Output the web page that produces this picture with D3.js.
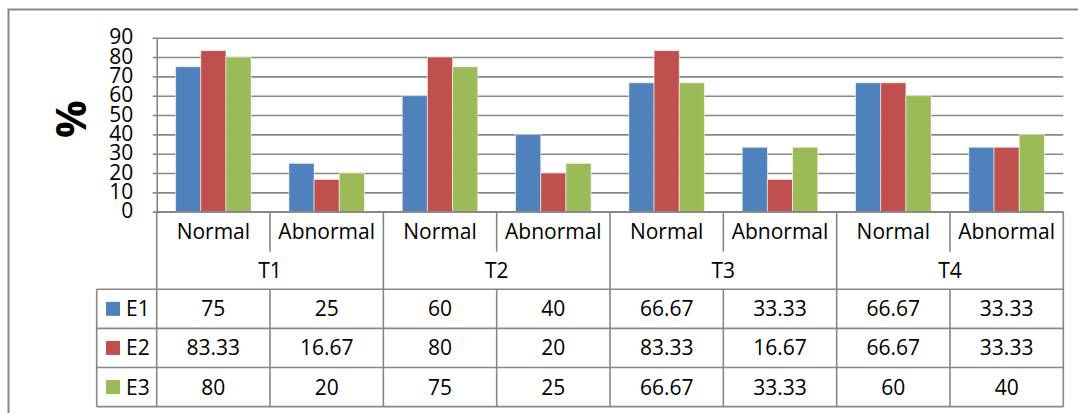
<!DOCTYPE html>
<html>
<head>
<meta charset="utf-8">
<script src="https://cdn.jsdelivr.net/npm/d3@7"></script>
<style>
  html, body { margin: 0; padding: 0; background: #fff; }
  svg { display: block; }
  text { font-family: "Open Sans", "Noto Sans", sans-serif; fill: #000; }
</style>
</head>
<body>
<svg id="chart" width="1078" height="413"></svg>
<script>
// Treatment groups and result categories along the x axis
const groups = ["T1", "T2", "T3", "T4"];
const states = ["Normal", "Abnormal"];

// Series names and their percentages, one value per group/state pair
const seriesNames = ["E1", "E2", "E3"];
const e1 = [75, 25, 60, 40, 66.67, 33.33, 66.67, 33.33];
const e2 = [83.33, 16.67, 80, 20, 83.33, 16.67, 66.67, 33.33];
const e3 = [80, 20, 75, 25, 66.67, 33.33, 60, 40];

// Y axis ticks
const yTicks = [0, 10, 20, 30, 40, 50, 60, 70, 80, 90];
const yLabel = "%";

const colors = ["#4F81BD", "#C0504D", "#9BBB59"];
const lineColor = "#878787";

const seriesValues = [e1, e2, e3];
const categories = groups.flatMap(g => states.map(s => ({ group: g, state: s })));
const catIds = categories.map((c, i) => i);

const svg = d3.select("#chart");

// layout
const plotLeft = 156.7, plotRight = 1063.3;
const plotTop = 37.7, plotBottom = 211.7;
const row1Bottom = 251.7;   // end of Normal/Abnormal dividers
const tableTop = 289.3;     // top of the data table
const rowH = 39.1;
const tableLeft = 96.7;
const tableBottom = tableTop + rowH * seriesValues.length;

// chart frame
svg.append("rect")
  .attr("x", 8.5).attr("y", 9.5)
  .attr("width", 1200).attr("height", 600)
  .attr("fill", "none")
  .attr("stroke", lineColor)
  .attr("stroke-width", 2);

const x = d3.scaleBand().domain(catIds).range([plotLeft, plotRight]).padding(0);
const xs = d3.scaleBand().domain(seriesNames).range([0, x.bandwidth()])
  .paddingInner(0).paddingOuter(0.75);
const y = d3.scaleLinear().domain([0, 90]).range([plotBottom, plotTop]);

// horizontal gridlines
const grid = svg.append("g")
  .attr("transform", `translate(${plotLeft},0)`)
  .call(d3.axisLeft(y).tickValues(yTicks).tickSize(-(plotRight - plotLeft)).tickFormat(""));
grid.select(".domain").remove();
grid.selectAll(".tick line").attr("stroke", lineColor).attr("stroke-width", 1.6);

// y axis with labels
const yAxis = svg.append("g")
  .attr("transform", `translate(${plotLeft},0)`)
  .call(d3.axisLeft(y).tickValues(yTicks).tickSizeInner(4).tickSizeOuter(0).tickPadding(19.5));
yAxis.attr("font-size", null).attr("font-family", null);
yAxis.select(".domain").attr("stroke", lineColor).attr("stroke-width", 1.6);
yAxis.selectAll(".tick line").attr("stroke", lineColor).attr("stroke-width", 1.6);
yAxis.selectAll(".tick text")
  .style("font-size", "21px")
  .attr("dy", null)
  .attr("y", 6.2)
  .attr("fill", "#000");

// axis title
svg.append("text")
  .attr("transform", `translate(${71 + 15},119) rotate(-90)`)
  .attr("text-anchor", "middle")
  .style("font-size", "42px")
  .attr("font-weight", "bold")
  .text(yLabel);

// bars
const barGroups = svg.append("g").selectAll("g")
  .data(seriesValues)
  .join("g")
  .attr("fill", (d, i) => colors[i]);

barGroups.each(function (vals, si) {
  d3.select(this).selectAll("rect")
    .data(vals)
    .join("rect")
    .attr("x", (v, ci) => x(ci) + xs(seriesNames[si]))
    .attr("width", xs.bandwidth())
    .attr("y", v => y(v))
    .attr("height", v => y(0) - y(v))
    .attr("stroke", "rgba(255,255,255,0.55)")
    .attr("stroke-width", 1);
});

// category axis line
const lines = svg.append("g")
  .attr("stroke", lineColor)
  .attr("stroke-width", 1.6)
  .attr("fill", "none");

lines.append("line")
  .attr("x1", plotLeft).attr("x2", plotRight)
  .attr("y1", plotBottom).attr("y2", plotBottom);

// dividers between categories: full height at group edges, short inside groups
const edges = d3.range(categories.length + 1);
lines.selectAll(".div")
  .data(edges)
  .join("line")
  .attr("x1", i => i < categories.length ? x(i) : plotRight)
  .attr("x2", i => i < categories.length ? x(i) : plotRight)
  .attr("y1", plotBottom)
  .attr("y2", i => (i % states.length === 0) ? tableBottom : row1Bottom);

// data table grid
lines.selectAll(".hrow")
  .data(d3.range(seriesValues.length + 1))
  .join("line")
  .attr("x1", tableLeft).attr("x2", plotRight)
  .attr("y1", r => tableTop + r * rowH)
  .attr("y2", r => tableTop + r * rowH);

lines.append("line")
  .attr("x1", tableLeft).attr("x2", tableLeft)
  .attr("y1", tableTop).attr("y2", tableBottom);

lines.selectAll(".vcell")
  .data(catIds.filter(i => i % states.length !== 0))
  .join("line")
  .attr("x1", i => x(i)).attr("x2", i => x(i))
  .attr("y1", tableTop).attr("y2", tableBottom);

const fs = 21;
const capShift = fs * 0.357;

// state labels
svg.append("g").selectAll("text")
  .data(categories)
  .join("text")
  .attr("x", (d, i) => x(i) + x.bandwidth() / 2)
  .attr("y", 231.8 + capShift)
  .attr("text-anchor", "middle")
  .style("font-size", fs + "px")
  .text(d => d.state);

// group labels
svg.append("g").selectAll("text")
  .data(groups)
  .join("text")
  .attr("x", (g, gi) => x(gi * states.length) + x.bandwidth() * states.length / 2)
  .attr("y", 270.5 + capShift)
  .attr("text-anchor", "middle")
  .style("font-size", fs + "px")
  .text(g => g);

// table rows: legend key, name and values
seriesValues.forEach((vals, si) => {
  const cy = tableTop + rowH * (si + 0.5);
  svg.append("rect")
    .attr("x", 106).attr("y", cy - 7)
    .attr("width", 14).attr("height", 14)
    .attr("fill", colors[si]);
  svg.append("text")
    .attr("x", 126)
    .attr("y", cy + capShift)
    .style("font-size", fs + "px")
    .text(seriesNames[si]);
  svg.append("g").selectAll("text")
    .data(vals)
    .join("text")
    .attr("x", (v, ci) => x(ci) + x.bandwidth() / 2)
    .attr("y", cy + capShift)
    .attr("text-anchor", "middle")
    .style("font-size", fs + "px")
    .text(v => String(v));
});
</script>
</body>
</html>
